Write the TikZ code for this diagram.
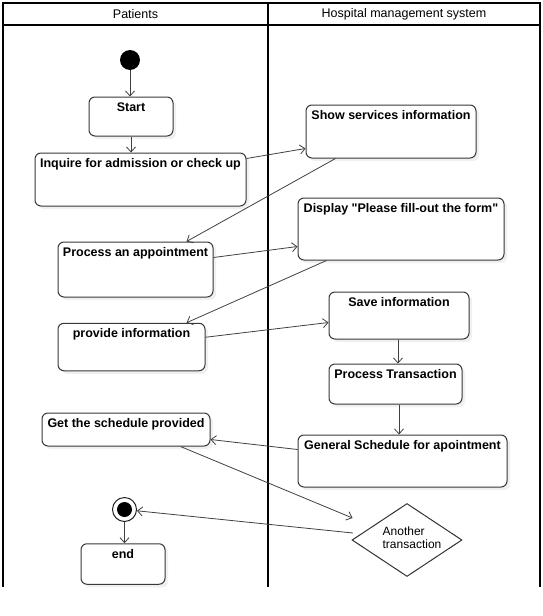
\documentclass[tikz,border=0pt]{standalone}
\usepackage{fontspec}
\setmainfont{Liberation Sans}
\usetikzlibrary{arrows.meta,shapes.geometric,shadows}
\begin{document}
\begin{tikzpicture}[x=1pt,y=-1pt,
  act/.style={draw=black!78, line width=1pt, rounded corners=6pt, fill=white,
    drop shadow={opacity=0.12, shadow xshift=3pt, shadow yshift=-3pt}, inner sep=0pt},
  lbl/.style={font=\fontsize{12.5}{14}\selectfont\bfseries, anchor=mid, yshift=-12.5pt, inner sep=0pt},
  flow/.style={draw=black!75, line width=0.8pt, -{Straight Barb[length=5pt,width=9pt]}},
  lane/.style={line width=2pt, black},
  head/.style={font=\fontsize{12.5}{14}\selectfont, inner sep=0pt}
]
\useasboundingbox (0,0) rectangle (542,616);

% swimlane frame
\draw[lane] (3,3) rectangle (540,25);
\draw[lane] (3,25) -- (3,587);
\draw[lane] (268,3) -- (268,587);
\draw[lane] (540,25) -- (540,587);
\node[head] (hP) at (135.5,14) {Patients};
\node[head] (hH) at (404,14) {Hospital management system};

% initial and final nodes
\node[circle, fill=black, minimum size=20pt, inner sep=0pt] (init) at (130,60) {};
\node[circle, draw=black!85, line width=1pt, fill=white, minimum size=24pt, inner sep=0pt,
  path picture={\fill[black] (path picture bounding box.center) circle (7.5pt);}] (fin) at (124.5,509.5) {};

% activities
\newcommand\actnode[6]{\node[act, minimum width=#4pt, minimum height=#5pt, label={[lbl]north:#6}] (#1) at (#2,#3) {};}
\actnode{start}{131}{116.5}{84}{39}{Start}
\actnode{inq}{140.5}{179.5}{211}{53}{Inquire for admission or check up}
\actnode{proc}{135.5}{269.5}{155}{55}{Process an appointment}
\actnode{show}{391}{131.5}{170}{53}{Show services information}
\actnode{disp}{401}{229}{206}{62}{Display \textquotedbl Please fill-out the form\textquotedbl}
\actnode{save}{399}{315.5}{140}{47}{Save information}
\actnode{prov}{131.5}{347}{147}{47.5}{provide information}
\actnode{ptrans}{395.5}{384}{133}{40}{Process Transaction}
\actnode{get}{126}{429.5}{168}{33}{Get the schedule provided}
\actnode{gen}{402.5}{461}{209}{52}{General Schedule for apointment}
\actnode{endn}{123}{564}{84}{40.5}{end}

% decision
\node[diamond, draw=black!80, line width=1pt, fill=white, minimum width=110pt, minimum height=73pt, inner sep=0pt] (dia) at (407,540) {};
\node[align=left, font=\fontsize{12}{13.5}\selectfont, inner sep=0pt] (diaT) at (412,537.5) {Another\\transaction};
\coordinate (diaIn) at (352.5,518);
\coordinate (diaOut) at (353,533);

% flows
\draw[flow] (init.south) -- (init.south |- start.north);
\draw[flow] (start.south) -- (start.south |- inq.north);
\draw[flow] ([yshift=-6pt]inq.north east) -- ([yshift=-44pt]show.north west);
\draw[flow] ([xshift=30pt]show.south west) -- ([xshift=129pt]proc.north west);
\draw[flow] ([yshift=-16pt]proc.north east) -- ([yshift=-49pt]disp.north west);
\draw[flow] ([xshift=29pt]disp.south west) -- ([xshift=129pt]prov.north west);
\draw[flow] ([yshift=-14.5pt]prov.north east) -- ([yshift=-31pt]save.north west);
\draw[flow] ([xshift=-1pt]save.south) -- ([xshift=-1pt]save.south |- ptrans.north);
\draw[flow] ([xshift=3.5pt]ptrans.south) -- ([xshift=3.5pt]ptrans.south |- gen.north);
\draw[flow] ([yshift=-15pt]gen.north west) -- ([yshift=-27pt]get.north east);
\draw[flow] ([xshift=139pt]get.south west) -- (diaIn);
\draw[flow] (diaOut) -- (fin);
\draw[flow] (fin.south) -- (fin.south |- endn.north);
\end{tikzpicture}
\end{document}
